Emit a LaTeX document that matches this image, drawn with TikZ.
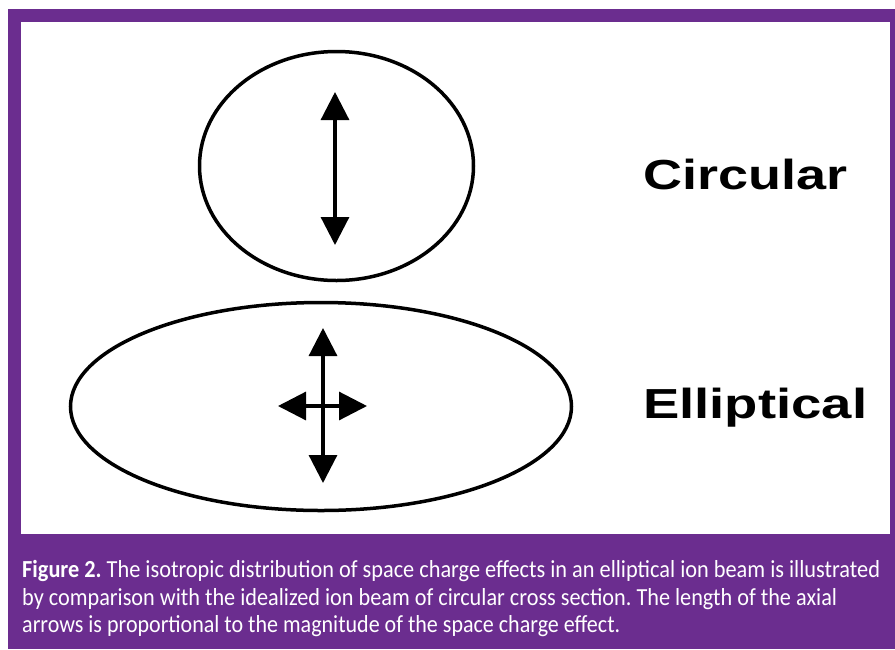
\documentclass[tikz,border=0pt]{standalone}
\usepackage{fontspec}
\usepackage{graphicx}
\setmainfont{Liberation Sans}
\newfontfamily\capfont{Carlito}
\usetikzlibrary{arrows.meta,shapes.geometric}
\definecolor{framepurple}{RGB}{107,45,143}
\tikzset{
  beam/.style={draw=black, ellipse, line width=3.5pt, inner sep=0pt},
  axarrow/.style={line width=3.2pt, {Triangle[width=28pt,length=28pt]}-{Triangle[width=28pt,length=28pt]}},
  label/.style={anchor=base west, inner sep=0pt, text=black, font=\fontsize{42}{42}\selectfont\bfseries},
  capline/.style={anchor=base west, inner sep=0pt, text=white, font=\capfont\fontsize{24.5}{27}\selectfont\frenchspacing}
}
\begin{document}
\begin{tikzpicture}[x=1pt,y=-1pt]
\useasboundingbox (0,0) rectangle (895,649);
\fill[white] (0,0) rectangle (895,649);
\fill[framepurple] (8,9) rectangle (895,649);
\fill[white] (21,22) rectangle (890,534);

% circular beam
\node[beam, minimum width=274pt, minimum height=229pt] (circ) at (336.5,166) {};
\coordinate (ct) at (335,92);
\coordinate (cb) at (335,245);
\draw[axarrow] (ct) -- (cb);

% elliptical beam
\node[beam, minimum width=501pt, minimum height=208pt] (ell) at (321,406.5) {};
\coordinate (et) at (323,328);
\coordinate (eb) at (323,483);
\coordinate (el) at (278,406);
\coordinate (er) at (367,406);
\draw[axarrow] (et) -- (eb);
\draw[axarrow] (el) -- (er);

% labels
\node[label] (lc) at (643,189) {\resizebox{204pt}{\height}{Circular}};
\node[label] (le) at (643,418) {\resizebox{224pt}{\height}{Elliptical}};

% caption
\node[capline] (cap1) at (22,577) {\resizebox{858pt}{\height}{\textbf{Figure 2.} The isotropic distribution of space charge effects in an elliptical ion beam is illustrated}};
\node[capline] (cap2) at (22,605) {\resizebox{815pt}{\height}{by comparison with the idealized ion beam of circular cross section. The length of the axial}};
\node[capline] (cap3) at (22,632) {\resizebox{598pt}{\height}{arrows is proportional to the magnitude of the space charge effect.}};
\end{tikzpicture}
\end{document}
